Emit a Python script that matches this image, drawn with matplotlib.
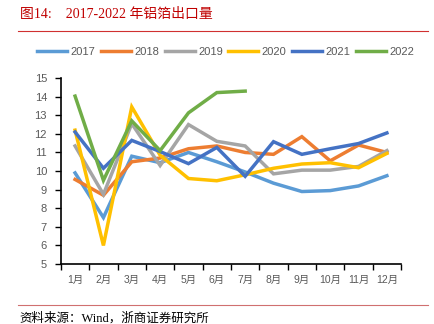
import matplotlib
matplotlib.use('Agg')
import matplotlib.pyplot as plt
import numpy as np

months = ['1月', '2月', '3月', '4月', '5月', '6月', '7月', '8月', '9月', '10月', '11月', '12月']
y2017 = [9.9, 7.5, 10.8, 10.45, 11.0, 10.5, 9.95, 9.35, 8.9, 8.95, 9.2, 9.75]
y2018 = [9.55, 8.7, 10.5, 10.7, 11.2, 11.35, 11.0, 10.9, 11.85, 10.55, 11.4, 11.0]
y2019 = [11.35, 8.75, 12.55, 10.3, 12.5, 11.6, 11.35, 9.85, 10.05, 10.05, 10.25, 11.1]
y2020 = [12.2, 6.0, 13.45, 10.85, 9.6, 9.48, 9.8, 10.15, 10.38, 10.45, 10.18, 10.95]
y2021 = [12.1, 10.15, 11.65, 11.05, 10.4, 11.27, 9.72, 11.58, 10.9, 11.2, 11.48, 12.05]
y2022 = [14.03, 9.5, 12.7, 11.1, 13.13, 14.22, 14.3]

series = [('2017', y2017, '#5B9BD5'), ('2018', y2018, '#ED7D31'),
          ('2019', y2019, '#A5A5A5'), ('2020', y2020, '#FFC000'),
          ('2021', y2021, '#4472C4'), ('2022', y2022, '#70AD47')]

sans = ['Liberation Sans', 'Noto Sans CJK SC']
serif = ['Liberation Serif', 'Noto Sans CJK SC']

fig = plt.figure(figsize=(4.35, 3.24), dpi=100)
ax = fig.add_axes([0.140, 0.185, 0.782, 0.574])

x = np.arange(len(months)) + 0.5
for name, vals, c in series:
    ax.plot(x[:len(vals)], vals, color=c, lw=2.5, label=name, solid_joinstyle='miter')

ax.set_xlim(0, 12)
ax.set_ylim(5, 15)
ax.set_yticks(range(5, 16))
ax.set_xticks(x)
ax.set_xticklabels(months, family=sans, fontsize=7.5, color='#595959')
ax.set_xticks(np.arange(0, 13), minor=True)
ax.tick_params(axis='x', which='major', length=0, pad=8)
ax.tick_params(axis='x', which='minor', length=4, width=1, direction='out')
ax.tick_params(axis='y', length=4, width=1, labelsize=8, labelcolor='#595959', pad=6)
for lab in ax.get_yticklabels():
    lab.set_family(sans)
for s in ['top', 'right']:
    ax.spines[s].set_visible(False)
for s in ['left', 'bottom']:
    ax.spines[s].set_linewidth(1.2)

ax.legend(loc='lower center', bbox_to_anchor=(0.484, 1.06), ncol=6, frameon=False,
          prop={'family': sans, 'size': 8}, handlelength=2.7, columnspacing=0.5,
          handletextpad=0.3, labelcolor='#595959')

fig.text(0.045, 0.955, '图14:    2017-2022 年铝箔出口量', family=serif, fontsize=10,
         color='#C00000', va='center')
fig.add_artist(plt.Line2D([0.042, 0.985], [0.905, 0.905], color='#D03030', lw=0.8))
fig.add_artist(plt.Line2D([0.042, 0.985], [0.058, 0.058], color='#D07070', lw=0.8))
fig.text(0.045, 0.018, '资料来源：Wind，浙商证券研究所', family=serif, fontsize=9,
         color='#000000', va='center')

fig.savefig('out.png', dpi=100)
